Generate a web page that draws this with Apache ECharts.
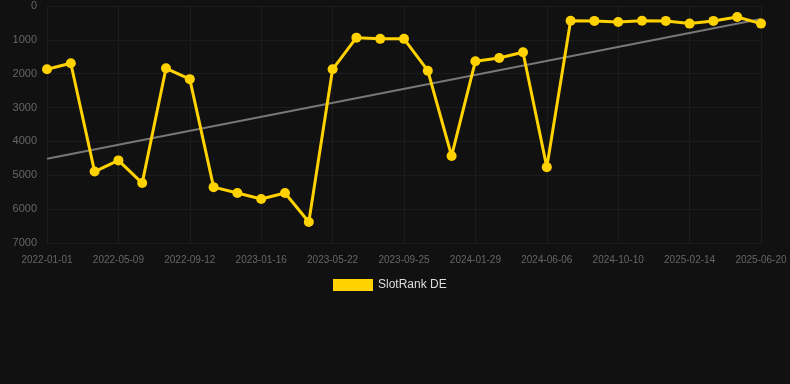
<!DOCTYPE html>
<html><head><meta charset="utf-8">
<script src="https://cdn.jsdelivr.net/npm/echarts@6/dist/echarts.min.js"></script>
<style>html,body{margin:0;padding:0;background:#111111;}#c{width:790px;height:384px;}</style>
</head><body><div id="c"></div>
<script>
const dates = ["2022-01-01","2022-02-12","2022-03-26","2022-05-09","2022-06-20","2022-08-01","2022-09-12","2022-10-24","2022-12-05","2023-01-16","2023-02-27","2023-04-10","2023-05-22","2023-07-03","2023-08-14","2023-09-25","2023-11-06","2023-12-18","2024-01-29","2024-03-11","2024-04-24","2024-06-06","2024-07-18","2024-08-29","2024-10-10","2024-11-21","2025-01-02","2025-02-14","2025-03-28","2025-05-09","2025-06-20"];
const ranks = [1870,1690,4890,4560,5230,1840,2160,5350,5525,5700,5525,6380,1870,935,970,970,1910,4430,1630,1535,1365,4760,435,440,470,435,440,520,440,325,520];
const trendStart = 4510;
const trendEnd = 385;

const trend = dates.map((d,i)=> i===0 ? trendStart : (i===dates.length-1 ? trendEnd : null));

const chart = echarts.init(document.getElementById('c'));
chart.setOption({
  backgroundColor:'#111111',
  animation:false,
  grid:{left:47,right:29,top:6,bottom:141},
  legend:{
    top:274, left:328,
    itemWidth:40, itemHeight:12, itemGap:10,
    textStyle:{color:'#dddddd',fontSize:12,fontFamily:'Arial, Liberation Sans, sans-serif'},
    data:[{name:'SlotRank DE',icon:'rect'}]
  },
  xAxis:{
    type:'category', data:dates, boundaryGap:false,
    axisLine:{show:false}, axisTick:{show:false},
    axisLabel:{color:'#666666',fontSize:10,interval:2,margin:12,fontFamily:'Arial, Liberation Sans, sans-serif'},
    splitLine:{show:true,interval:2,lineStyle:{color:'#1c1c1c',width:1}}
  },
  yAxis:{
    type:'value', inverse:true, min:0, max:7000, interval:1000,
    axisLine:{show:false}, axisTick:{show:false},
    axisLabel:{color:'#666666',fontSize:11,margin:10,formatter:v=>String(v),fontFamily:'Arial, Liberation Sans, sans-serif'},
    splitLine:{lineStyle:{color:'#1c1c1c',width:1}}
  },
  series:[
    {name:'trend',type:'line',data:trend,connectNulls:true,showSymbol:false,symbol:'none',
     lineStyle:{color:'#777777',width:2},itemStyle:{color:'#777777'},z:1,silent:true},
    {name:'SlotRank DE',type:'line',data:ranks,symbol:'circle',symbolSize:10,
     lineStyle:{color:'#ffd200',width:3},itemStyle:{color:'#ffd200'},z:2}
  ]
});
</script></body></html>
